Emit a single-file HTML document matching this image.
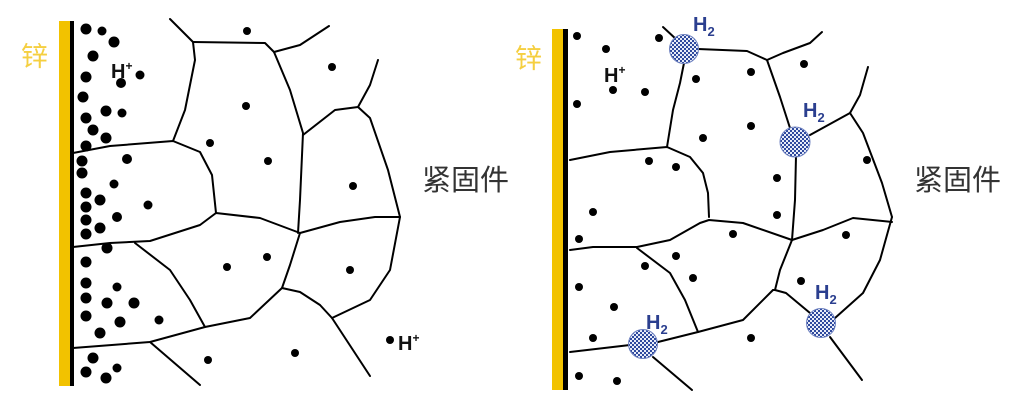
<!DOCTYPE html>
<html><head><meta charset="utf-8"><style>
html,body{margin:0;padding:0;background:#fff;width:1024px;height:415px;overflow:hidden}
</style></head><body>
<svg width="1024" height="415" viewBox="0 0 1024 415" xmlns="http://www.w3.org/2000/svg">
<defs>
<pattern id="chk" width="4" height="4" patternUnits="userSpaceOnUse">
<rect width="4" height="4" fill="#e8ecf8"/><rect width="2" height="2" fill="#2f4a9e"/><rect x="2" y="2" width="2" height="2" fill="#2f4a9e"/>
</pattern>
</defs>
<g font-family="Liberation Sans, Noto Sans CJK SC, sans-serif">
<rect x="59" y="21" width="11" height="365" fill="#f2c200"/>
<rect x="70" y="21" width="4" height="365" fill="#000"/>
<text x="21" y="66" font-size="27" fill="#f5cf40">锌</text>
<g fill="none" stroke="#000" stroke-width="2" stroke-linejoin="round" stroke-linecap="round">
<path d="M170,19 L193,42 L195,60 L185,110 L173,141"/>
<path d="M193,42 L265,43 L274,52 L300,45 L329,26"/>
<path d="M274,52 L290,90 L303,133 L300,200 L298,233"/>
<path d="M303,135 L335,110 L358,107 L370,85 L378,60"/>
<path d="M358,107 L370,118 L388,170 L400,217"/>
<path d="M73,153 L110,146 L173,141 L200,152 L212,175 L216,213"/>
<path d="M73,247 L110,243 L150,241 L200,225 L216,213 L260,218 L300,233 L340,222 L375,217 L400,217"/>
<path d="M300,233 L290,265 L282,288 L300,292 L320,305 L332,318 L370,376"/>
<path d="M332,318 L370,300 L390,270 L400,217"/>
<path d="M135,243 L170,270 L190,300 L205,327 L250,318 L282,288"/>
<path d="M73,348 L150,342 L205,327"/>
<path d="M150,342 L200,385"/>
</g>
<g fill="#000">
<circle cx="86" cy="29" r="5.5"/><circle cx="102" cy="31" r="4.5"/><circle cx="114" cy="42" r="5.5"/><circle cx="93" cy="56" r="5.5"/><circle cx="140" cy="75" r="4.5"/><circle cx="86" cy="77" r="5.5"/><circle cx="121" cy="83" r="5"/><circle cx="83" cy="97" r="5.5"/><circle cx="106" cy="111" r="5.5"/><circle cx="122" cy="113" r="4.5"/><circle cx="86" cy="118" r="5.5"/><circle cx="93" cy="130" r="5.5"/><circle cx="106" cy="138" r="5.5"/><circle cx="86" cy="146" r="5.5"/><circle cx="127" cy="159" r="5"/><circle cx="82" cy="161" r="5.5"/><circle cx="82" cy="173" r="5.5"/><circle cx="114" cy="184" r="4.5"/><circle cx="86" cy="193" r="5.5"/><circle cx="100" cy="200" r="5.5"/><circle cx="86" cy="207" r="5.5"/><circle cx="148" cy="205" r="4.5"/><circle cx="86" cy="220" r="5.5"/><circle cx="117" cy="217" r="5"/><circle cx="86" cy="234" r="5.5"/><circle cx="100" cy="228" r="5.5"/><circle cx="107" cy="248" r="5.5"/><circle cx="86" cy="262" r="5.5"/><circle cx="86" cy="283" r="5.5"/><circle cx="117" cy="287" r="4.5"/><circle cx="86" cy="298" r="5.5"/><circle cx="107" cy="303" r="5.5"/><circle cx="134" cy="303" r="5.5"/><circle cx="86" cy="316" r="5.5"/><circle cx="120" cy="322" r="5.5"/><circle cx="159" cy="320" r="4.5"/><circle cx="100" cy="333" r="5.5"/><circle cx="93" cy="358" r="5.5"/><circle cx="117" cy="368" r="4.5"/><circle cx="86" cy="372" r="5.5"/><circle cx="106" cy="378" r="5.5"/>
<circle cx="247" cy="31" r="4"/><circle cx="332" cy="67" r="4"/><circle cx="246" cy="106" r="4"/><circle cx="210" cy="143" r="4"/><circle cx="268" cy="161" r="4"/><circle cx="353" cy="186" r="4"/><circle cx="267" cy="257" r="4"/><circle cx="227" cy="267" r="4"/><circle cx="350" cy="270" r="4"/><circle cx="208" cy="360" r="4"/><circle cx="295" cy="353" r="4"/><circle cx="390" cy="340" r="4"/>
</g>
<text x="111" y="78" font-size="20" font-weight="bold" fill="#111">H<tspan font-size="12" dy="-8">+</tspan></text>
<text x="398" y="350" font-size="20" font-weight="bold" fill="#111">H<tspan font-size="12" dy="-8">+</tspan></text>
<text x="422" y="190" font-size="29" fill="#333">紧固件</text>

<rect x="552" y="29" width="11" height="361" fill="#f2c200"/>
<rect x="563" y="29" width="5" height="361" fill="#000"/>
<text x="515" y="68" font-size="27" fill="#f5cf40">锌</text>
<g fill="none" stroke="#000" stroke-width="2" stroke-linejoin="round" stroke-linecap="round">
<path d="M663,27 L677,40"/>
<path d="M684,63 L680,83 L673,110 L667,147"/>
<path d="M698,49 L747,51 L767,60"/>
<path d="M767,60 L783,53 L810,43 L822,32"/>
<path d="M767,60 L780,97 L790,128"/>
<path d="M810,135 L850,113 L860,95 L868,67"/>
<path d="M850,113 L863,133 L882,183 L892,217"/>
<path d="M796,156 L795,200 L792,240"/>
<path d="M570,160 L610,152 L667,147 L690,157 L703,173 L708,193 L709,217"/>
<path d="M570,250 L593,247 L637,247 L670,240 L700,223 L709,220 L743,223 L792,240"/>
<path d="M792,240 L823,230 L853,218 L892,222"/>
<path d="M792,240 L780,270 L775,290 L773,290"/>
<path d="M775,290 L786,293 L810,313"/>
<path d="M835,318 L863,293 L880,260 L892,217"/>
<path d="M830,337 L862,380"/>
<path d="M570,352 L630,345"/>
<path d="M658,342 L698,332 L743,320 L773,290"/>
<path d="M637,248 L670,273 L685,300 L698,332"/>
<path d="M653,357 L692,390"/>
</g>
<g fill="url(#chk)" stroke="#6f82c0" stroke-width="1">
<circle cx="684" cy="49" r="14.5"/><circle cx="795" cy="142" r="15"/><circle cx="643" cy="344" r="14.5"/><circle cx="821" cy="323" r="14.5"/>
</g>
<g fill="#000">
<circle cx="577" cy="36" r="4"/><circle cx="606" cy="49" r="4"/><circle cx="659" cy="38" r="4"/><circle cx="577" cy="104" r="4"/><circle cx="613" cy="90" r="4"/><circle cx="645" cy="92" r="4"/><circle cx="696" cy="79" r="4"/><circle cx="751" cy="72" r="4"/><circle cx="804" cy="64" r="4"/><circle cx="751" cy="126" r="4"/><circle cx="703" cy="138" r="4"/><circle cx="649" cy="161" r="4"/><circle cx="676" cy="167" r="4"/><circle cx="867" cy="160" r="4"/><circle cx="593" cy="212" r="4"/><circle cx="777" cy="178" r="4"/><circle cx="777" cy="215" r="4"/><circle cx="579" cy="239" r="4"/><circle cx="733" cy="234" r="4"/><circle cx="846" cy="235" r="4"/><circle cx="676" cy="256" r="4"/><circle cx="645" cy="266" r="4"/><circle cx="693" cy="278" r="4"/><circle cx="579" cy="287" r="4"/><circle cx="614" cy="307" r="4"/><circle cx="801" cy="281" r="4"/><circle cx="593" cy="338" r="4"/><circle cx="751" cy="338" r="4"/><circle cx="579" cy="376" r="4"/><circle cx="617" cy="381" r="4"/>
</g>
<text x="604" y="82" font-size="20" font-weight="bold" fill="#111">H<tspan font-size="12" dy="-8">+</tspan></text>
<g font-size="20" font-weight="bold" fill="#2b3f8f">
<text x="693" y="31">H<tspan font-size="13" dy="5">2</tspan></text>
<text x="803" y="117">H<tspan font-size="13" dy="5">2</tspan></text>
<text x="646" y="329">H<tspan font-size="13" dy="5">2</tspan></text>
<text x="815" y="299">H<tspan font-size="13" dy="5">2</tspan></text>
</g>
<text x="914" y="190" font-size="29" fill="#333">紧固件</text>
</g>
</svg>
</body></html>
